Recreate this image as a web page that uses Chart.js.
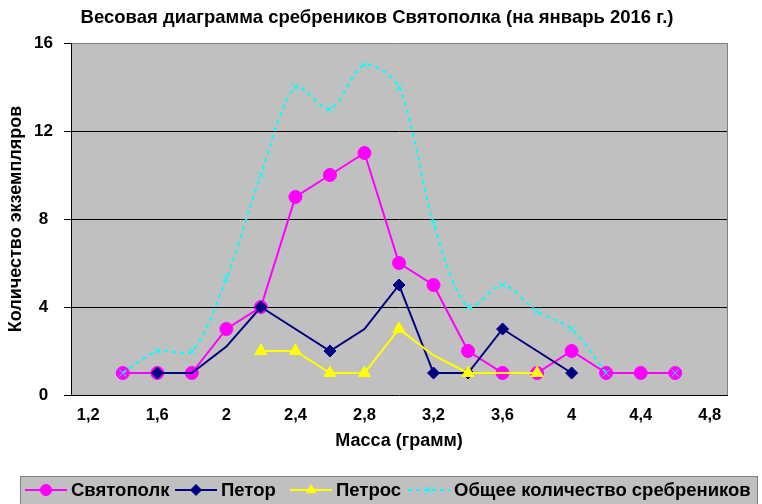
<!DOCTYPE html>
<html>
<head>
<meta charset="utf-8">
<script src="https://cdn.jsdelivr.net/npm/chart.js@4.4.1/dist/chart.umd.min.js"></script>
<style>
    html, body { margin: 0; padding: 0; background: #fff; }
    #wrap { width: 762px; height: 504px; position: relative; }
</style>
</head>
<body>
<div id="wrap"><canvas id="chart" width="762" height="504"></canvas></div>
<script>
(function() {
    'use strict';

    // Mass categories (grams), every 0.2 g
    const massLabels = ['1,2', '1,4', '1,6', '1,8', '2', '2,2', '2,4', '2,6', '2,8', '3',
                        '3,2', '3,4', '3,6', '3,8', '4', '4,2', '4,4', '4,6', '4,8'];

    const svyatopolk = [null, 1, 1, 1, 3, 4, 9, 10, 11, 6, 5, 2, 1, 1, 2, 1, 1, 1, null];
    const petor      = [null, null, 1, 1, 2.2, 4, 3, 2, 3, 5, 1, 1, 3, 2, 1, null, null, null, null];
    const petros     = [null, null, null, null, null, 2, 2, 1, 1, 3, 1.8, 1, 1, 1, null, null, null, null, null];
    const total      = [null, 1, 2, 2, 5.3, 10, 14, 13, 15, 14, 7.8, 4, 5, 3.8, 3, 1, null, 1, null];

    // points that are drawn on the line without a marker
    const petorNoMarker  = ['1,8', '2', '2,4', '2,8', '3,8'];
    const petrosNoMarker = ['3,2', '3,6'];

    const seriesNames = ['Святополк', 'Петор', 'Петрос', 'Общее количество сребреников'];
    const yTicks = [0, 4, 8, 12, 16];

    const FONT = "'Liberation Sans', Arial, sans-serif";
    const TITLE = 'Весовая диаграмма сребреников Святополка (на январь 2016 г.)';
    const legendSlots = [25, 175, 290, 408];

    function markerRadius(hidden, size) {
        return function(ctx) {
            return hidden.includes(massLabels[ctx.dataIndex]) ? 0 : size;
        };
    }

    // plot background, border, chart title and Excel-like legend
    const frame = {
        id: 'excelFrame',
        beforeDraw(chart) {
            const { ctx, chartArea: a } = chart;
            ctx.save();
            ctx.fillStyle = '#c0c0c0';
            ctx.fillRect(a.left, a.top, a.right - a.left, a.bottom - a.top);
            ctx.fillStyle = '#000';
            ctx.font = 'bold 18.5px ' + FONT;
            ctx.textAlign = 'center';
            ctx.textBaseline = 'middle';
            ctx.fillText(TITLE, 377, 18);
            ctx.restore();
        },
        beforeDatasetsDraw(chart) {
            const { ctx, chartArea: a } = chart;
            ctx.save();
            ctx.strokeStyle = '#808080';
            ctx.lineWidth = 1;
            ctx.beginPath();
            ctx.moveTo(a.right + 0.5, a.top);
            ctx.lineTo(a.right + 0.5, a.bottom);
            ctx.stroke();
            ctx.restore();
        },
        afterDraw(chart) {
            const ctx = chart.ctx;
            const top = 476, left = 20, right = 757;
            ctx.save();
            ctx.fillStyle = '#c0c0c0';
            ctx.fillRect(left, top, right - left, 40);
            ctx.strokeStyle = '#808080';
            ctx.lineWidth = 1;
            ctx.strokeRect(left + 0.5, top + 0.5, right - left, 40);

            ctx.font = 'bold 18.5px ' + FONT;
            ctx.textBaseline = 'middle';
            const cy = 490;
            chart.data.datasets.forEach(function(ds, i) {
                const x = legendSlots[i];
                ctx.save();
                ctx.strokeStyle = ds.borderColor;
                ctx.lineWidth = ds.borderWidth;
                ctx.setLineDash(ds.borderDash || []);
                ctx.beginPath();
                ctx.moveTo(x, cy);
                ctx.lineTo(x + 42, cy);
                ctx.stroke();
                ctx.setLineDash([]);
                ctx.fillStyle = ds.pointBackgroundColor;
                ctx.strokeStyle = ds.pointBorderColor;
                ctx.lineWidth = ds.pointBorderWidth;
                Chart.helpers.drawPoint(ctx, {
                    pointStyle: ds.pointStyle,
                    rotation: 0,
                    radius: 5.5,
                    borderWidth: ds.pointBorderWidth
                }, x + 21, cy);
                ctx.restore();
                ctx.fillStyle = '#000';
                ctx.fillText(ds.label, x + 46, cy + 1);
            });
            ctx.restore();
        }
    };

    const ctx = document.getElementById('chart');
    new Chart(ctx, {
        type: 'line',
        data: {
            labels: massLabels,
            datasets: [
                {
                    label: seriesNames[0],
                    data: svyatopolk,
                    borderColor: '#ff00ff',
                    borderWidth: 2,
                    pointStyle: 'circle',
                    pointRadius: 6.5,
                    pointBackgroundColor: '#ff00ff',
                    pointBorderColor: '#ff00ff',
                    pointBorderWidth: 1,
                    tension: 0,
                    order: 4
                },
                {
                    label: seriesNames[1],
                    data: petor,
                    borderColor: '#000080',
                    borderWidth: 2,
                    pointStyle: 'rectRot',
                    pointRadius: markerRadius(petorNoMarker, 6),
                    pointBackgroundColor: '#000080',
                    pointBorderColor: '#000080',
                    pointBorderWidth: 1,
                    tension: 0,
                    order: 3
                },
                {
                    label: seriesNames[2],
                    data: petros,
                    borderColor: '#ffff00',
                    borderWidth: 2,
                    pointStyle: 'triangle',
                    pointRadius: markerRadius(petrosNoMarker, 7),
                    pointBackgroundColor: '#ffff00',
                    pointBorderColor: '#ffff00',
                    pointBorderWidth: 1,
                    tension: 0,
                    order: 2
                },
                {
                    label: seriesNames[3],
                    data: total,
                    borderColor: '#00ffff',
                    borderWidth: 2,
                    borderDash: [4, 4],
                    pointStyle: 'crossRot',
                    pointRadius: 5,
                    pointBackgroundColor: '#00ffff',
                    pointBorderColor: '#00ffff',
                    pointBorderWidth: 1,
                    tension: 0.3,
                    spanGaps: false,
                    order: 1
                }
            ]
        },
        options: {
            responsive: false,
            animation: false,
            maintainAspectRatio: false,
            layout: {
                padding: { top: 43, right: 35, bottom: 49, left: 0 }
            },
            plugins: {
                legend: { display: false },
                tooltip: { enabled: false },
                title: { display: false }
            },
            scales: {
                x: {
                    type: 'category',
                    offset: true,
                    afterFit: function(scale) { scale.height = 60; },
                    grid: { display: false, drawTicks: false },
                    border: { display: true, color: '#000', width: 1 },
                    ticks: {
                        autoSkip: false,
                        maxRotation: 0,
                        padding: 11,
                        color: '#000',
                        font: { family: FONT, size: 16.5, weight: 'bold' },
                        callback: function(value, index) {
                            return index % 2 === 0 ? massLabels[index] : '';
                        }
                    },
                    title: {
                        display: true,
                        text: 'Масса (грамм)',
                        color: '#000',
                        font: { family: FONT, size: 18, weight: 'bold' },
                        padding: { top: 0, bottom: 3 }
                    }
                },
                y: {
                    min: 0,
                    max: 16,
                    afterFit: function(scale) { scale.width = 71; },
                    afterBuildTicks: function(scale) {
                        scale.ticks = yTicks.map(function(v) { return { value: v }; });
                    },
                    grid: {
                        color: function(c) {
                            if (c.tick.value === 0) return 'rgba(0,0,0,0)';
                            if (c.tick.value === 16) return '#808080';
                            return '#000';
                        },
                        tickColor: '#000',
                        tickLength: 7,
                        lineWidth: 1
                    },
                    border: { display: true, color: '#000', width: 1 },
                    ticks: {
                        padding: 11,
                        crossAlign: 'center',
                        color: '#000',
                        font: { family: FONT, size: 17, weight: 'bold' }
                    },
                    title: {
                        display: true,
                        text: 'Количество экземпляров',
                        color: '#000',
                        font: { family: FONT, size: 18, weight: 'bold' },
                        padding: { top: 5, bottom: 0 }
                    }
                }
            }
        },
        plugins: [frame]
    });
})();
</script>
</body>
</html>
